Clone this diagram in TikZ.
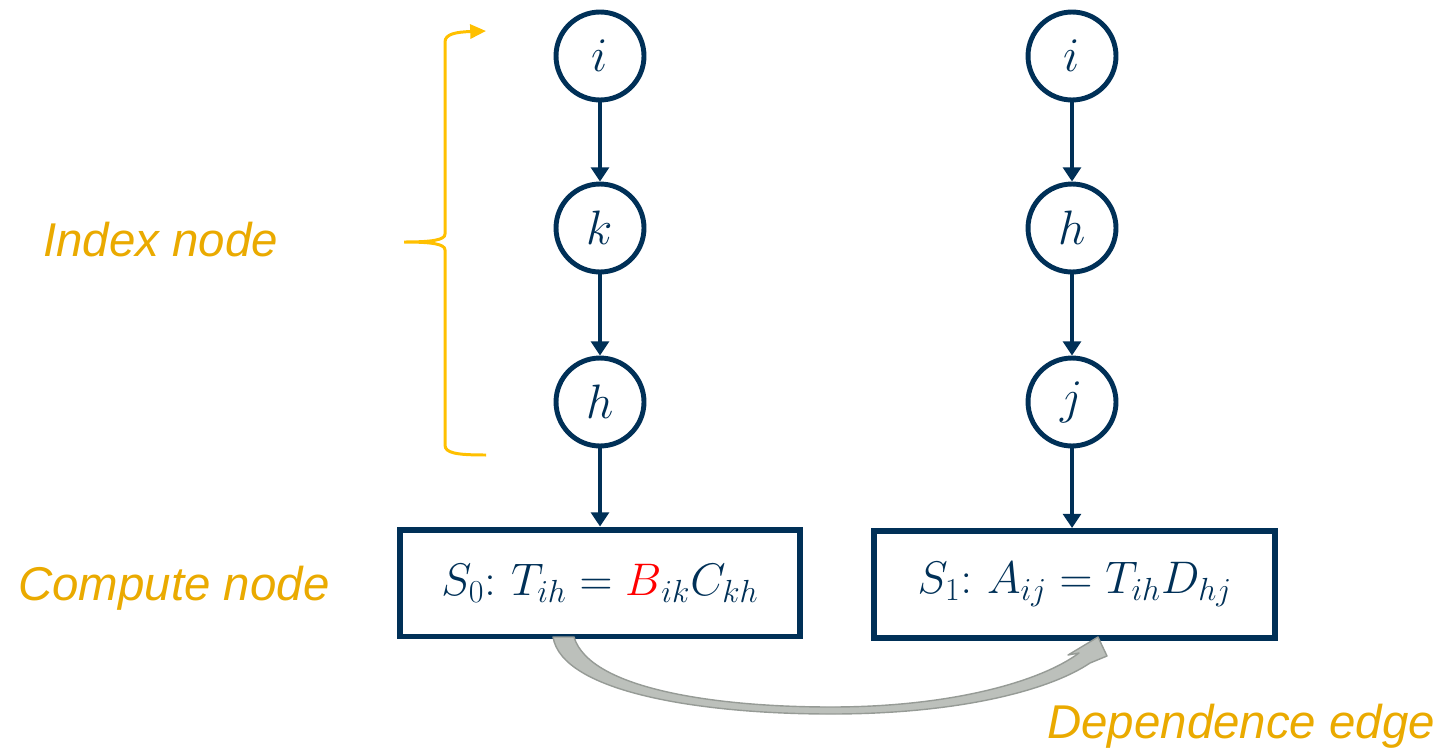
\RequirePackage{fix-cm}
\documentclass[tikz,border=0pt]{standalone}
\usepackage{fontspec}
\newfontfamily\labelfont{Liberation Sans}
\definecolor{dgnavy}{RGB}{0,48,87}
\definecolor{dggold}{RGB}{255,192,0}
\definecolor{dglabel}{RGB}{234,170,0}
\definecolor{dgred}{RGB}{255,0,0}
\definecolor{dgfill}{RGB}{188,192,187}
\definecolor{dgrim}{RGB}{150,155,150}
\usetikzlibrary{arrows.meta,calc}
\tikzset{
  idxnode/.style={circle, draw=dgnavy, line width=2.8pt, minimum size=1.76cm,
    inner sep=0pt, text=dgnavy, font=\fontsize{27.5}{32}\selectfont},
  cmpnode/.style={rectangle, draw=dgnavy, line width=3.4pt, minimum width=8.02cm,
    minimum height=2.14cm, inner sep=0pt, text=dgnavy, font=\fontsize{26}{31}\selectfont},
  idxarrow/.style={draw=dgnavy, line width=2.6pt, -{Triangle[length=8pt,width=10pt]}},
  sidelabel/.style={anchor=base west, inner sep=0pt, text=dglabel,
    font=\labelfont\itshape\fontsize{27}{32}\selectfont},
}

\begin{document}
\begin{tikzpicture}[x=0.02cm, y=-0.02cm]
    \useasboundingbox (0,0) rectangle (1442,747);

    % Index nodes, left loop nest: i -> k -> h
    \node[idxnode] (li) at (600,56)  {$i$};
    \node[idxnode] (lk) at (600,228) {$k$};
    \node[idxnode] (lh) at (600,402) {$h$};

    % Index nodes, right loop nest: i -> h -> j
    \node[idxnode] (ri) at (1072,56)  {$i$};
    \node[idxnode] (rh) at (1072,228) {$h$};
    \node[idxnode] (rj) at (1072,402) {$j$};

    % Compute nodes
    \node[cmpnode] (s0) at (600,583)   {$S_0\colon\, T_{ih} = {\color{dgred}B}_{ik}C_{kh}$};
    \node[cmpnode] (s1) at (1074.7,584.5) {$S_1\colon\, A_{ij} = T_{ih}D_{hj}$};

    % Nesting arrows
    \draw[idxarrow] (li) -- (lk);
    \draw[idxarrow] (lk) -- (lh);
    \draw[idxarrow] (lh) -- (s0);
    \draw[idxarrow] (ri) -- (rh);
    \draw[idxarrow] (rh) -- (rj);
    \draw[idxarrow] (rj) -- (rj |- s1.north);

    % Brace around the index nodes
    \draw[dggold, line width=1.7pt, -{Triangle[length=9pt,width=8pt]}]
      (486,455) .. controls (456,455) and (445,453) .. (445,445)
      -- (445,250) .. controls (445,244) and (432,242) .. (404,242)
      .. controls (432,242) and (445,240) .. (445,234)
      -- (445,42) .. controls (445,34) and (456,32) .. (486,31);

    % Dependence edge (tapered block arrow)
    \filldraw[fill=dgfill, draw=dgrim, line width=0.8pt, line join=round]
      (553,637) .. controls (562,692) and (700,714) .. (831,714)
      .. controls (960,714) and (1050,690) .. (1090,663)
      -- (1107,656) -- (1098,637) -- (1068,655) -- (1079,653)
      .. controls (1040,682) and (950,707) .. (831,707)
      .. controls (720,707) and (590,690) .. (574,637) -- cycle;

    % Labels
    \node[sidelabel] (lblidx) at (43,256)   {Index node};
    \node[sidelabel] (lblcmp) at (18,600)   {Compute node};
    \node[sidelabel] (lbldep) at (1047,738) {Dependence edge};
\end{tikzpicture}
\end{document}
